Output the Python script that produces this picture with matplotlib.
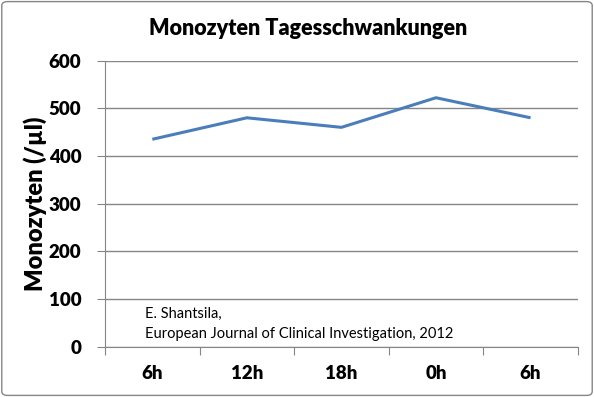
import numpy as np
import matplotlib.pyplot as plt
from matplotlib.patches import FancyBboxPatch

# data
zeiten = ["6h", "12h", "18h", "0h", "6h"]
monozyten = [435, 480, 460, 522, 480]
y_ticks = [0, 100, 200, 300, 400, 500, 600]

plt.rcParams['font.family'] = ['Lato', 'DejaVu Sans']

fig = plt.figure(figsize=(5.94, 3.97), dpi=100)
ax = fig.add_axes([0.1768, 0.126, 0.796, 0.7216])

x = np.arange(len(zeiten))
ax.plot(x, monozyten, color="#4A7EBB", linewidth=2.2, solid_capstyle="butt")

ax.set_xlim(-0.5, len(zeiten) - 0.5)
ax.set_ylim(0, 600)
ax.set_yticks(y_ticks)
ax.set_yticklabels([str(v) for v in y_ticks], fontsize=13.5, fontweight="heavy")
ax.yaxis.grid(True, color="#868686", linewidth=1.0)
ax.set_axisbelow(True)

# category ticks sit between the categories, labels at centres
ax.set_xticks(np.arange(len(zeiten) + 1) - 0.5)
ax.set_xticklabels([])
ax.set_xticks(x, minor=True)
ax.set_xticklabels(zeiten, minor=True, fontsize=13.5, fontweight="heavy")
ax.tick_params(axis="x", which="minor", length=0, pad=13)
ax.tick_params(axis="x", which="major", length=6, color="#868686", direction="out")
ax.tick_params(axis="y", length=6, color="#868686", pad=11)

for s in ["top", "right"]:
    ax.spines[s].set_visible(False)
for s in ["left", "bottom"]:
    ax.spines[s].set_color("#868686")

ax.set_ylabel("Monozyten (/µl)", fontsize=17, fontweight="heavy", labelpad=1)
fig.text(0.518, 0.928, "Monozyten Tagesschwankungen", ha="center", va="center",
         fontsize=15.5, fontweight="heavy")

ax.text(0.085, 0.08, "E. Shantsila,\nEuropean Journal of Clinical Investigation, 2012",
        transform=ax.transAxes, fontsize=10.5, va="center", linespacing=1.55)

# chart frame
frame = FancyBboxPatch((0.003, 0.004), 0.994, 0.992, boxstyle="round,pad=0,rounding_size=0.01",
                       transform=fig.transFigure, facecolor="none", edgecolor="#868686",
                       linewidth=1.0)
fig.patches.append(frame)

fig.savefig("out.png", dpi=100)
